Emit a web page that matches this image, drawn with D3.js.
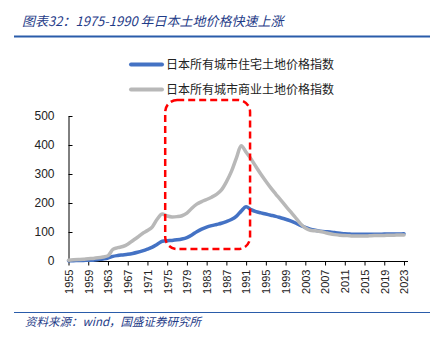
<!DOCTYPE html>
<html><head><meta charset="utf-8">
<script src="https://cdn.jsdelivr.net/npm/d3@7"></script>
<style>body{margin:0;background:#fff}svg{display:block}</style>
</head><body>
<script>
const years = d3.range(1955, 2024);
const residential = [1,1,2,2,3,3,5,7,10,16,19,21,23,26,30,35,41,48,58,68,70,71,73,76,81,90,101,110,117,122,126,130,136,143,154,172,187,177,170,166,162,158,154,149,144,138,131,123,116,110,106,103,101,100,98,96,94,93,92,92,92,92,92,92,93,93,93,93,94];
const commercial = [3,4,5,6,8,9,11,14,18,40,46,50,58,70,82,95,105,118,145,162,155,152,153,156,165,182,196,205,212,220,230,245,273,308,354,397,375,352,325,299,275,252,231,211,190,170,150,129,114,106,104,102,98,94,91,89,88,87,86,86,86,87,88,88,88,89,89,90,90];
const seriesNames = ["日本所有城市住宅土地价格指数","日本所有城市商业土地价格指数"];
const yTicks = [0,100,200,300,400,500];
const xTicks = d3.range(1955, 2024, 4);
const title = "图表32：1975-1990 年日本土地价格快速上涨";
const source = "资料来源：wind，国盛证券研究所";
const highlight = [1974.6, 1991.8, 41, 555];

const W = 444, H = 340;
const svg = d3.select("body").append("svg").attr("width", W).attr("height", H);
const cjk = "'Noto Sans CJK SC','Noto Sans',sans-serif";
const num = "'Liberation Sans',Arial,sans-serif";

// title
svg.append("text").attr("x", 22).attr("y", 26).attr("font-family", cjk).attr("font-style", "italic")
  .attr("font-size", 13).attr("fill", "#1f3c88").text(title);
svg.append("line").attr("x1", 14).attr("x2", 430).attr("y1", 36.5).attr("y2", 36.5)
  .attr("stroke", "#2a5caa").attr("stroke-width", 2);
// footer
svg.append("line").attr("x1", 14).attr("x2", 430).attr("y1", 312.5).attr("y2", 312.5)
  .attr("stroke", "#2a5caa").attr("stroke-width", 1.2);
svg.append("text").attr("x", 25).attr("y", 326).attr("font-family", cjk).attr("font-style", "italic")
  .attr("font-size", 11.5).attr("fill", "#1f3c88").text(source);

const x = d3.scaleLinear().domain([1955, 2023]).range([68.5, 404]);
const y = d3.scaleLinear().domain([0, 500]).range([261, 116]);

// axes
const yAxis = d3.axisLeft(y).tickValues(yTicks).tickSizeInner(-4).tickSizeOuter(0).tickPadding(14);
const gy = svg.append("g").attr("transform", "translate(68.5,0)").call(yAxis);
gy.select(".domain").attr("stroke", "#000");
gy.selectAll(".tick line").attr("stroke", "#000");
gy.selectAll("text").attr("font-family", num).attr("font-size", 12).attr("fill", "#222");

const xAxis = d3.axisBottom(x).tickValues(xTicks).tickFormat(d3.format("d")).tickSizeInner(4).tickSizeOuter(0);
const gx = svg.append("g").attr("transform", "translate(0,261.5)").call(xAxis);
gx.select(".domain").attr("stroke", "#000").attr("d", `M68.5,0H408`);
gx.selectAll(".tick line").attr("stroke", "#000");
gx.selectAll("text").attr("font-family", num).attr("font-size", 11).attr("fill", "#222")
  .attr("transform", "rotate(-90)").attr("text-anchor", "end").attr("dy", "0.35em")
  .attr("x", -8).attr("y", 0);

// lines
const line = vals => d3.line().x((d, i) => x(years[i])).y(d => y(d)).curve(d3.curveMonotoneX)(vals);
svg.append("path").attr("d", line(residential)).attr("fill", "none").attr("stroke", "#4472c4")
  .attr("stroke-width", 3.5).attr("stroke-linejoin", "round").attr("stroke-linecap", "round");
svg.append("path").attr("d", line(commercial)).attr("fill", "none").attr("stroke", "#b8b8b8")
  .attr("stroke-width", 3.5).attr("stroke-linejoin", "round").attr("stroke-linecap", "round");

// highlight box
svg.append("rect").attr("x", x(highlight[0])).attr("y", y(highlight[3]))
  .attr("width", x(highlight[1]) - x(highlight[0])).attr("height", y(highlight[2]) - y(highlight[3]))
  .attr("rx", 12).attr("ry", 12).attr("fill", "none").attr("stroke", "#ff0000")
  .attr("stroke-width", 2.5).attr("stroke-dasharray", "7,4");

// legend
const colors = ["#4472c4", "#b8b8b8"];
seriesNames.forEach((n, i) => {
  const ly = 64.5 + i * 25;
  svg.append("line").attr("x1", 131).attr("x2", 162).attr("y1", ly).attr("y2", ly)
    .attr("stroke", colors[i]).attr("stroke-width", 4).attr("stroke-linecap", "round");
  svg.append("text").attr("x", 166).attr("y", ly).attr("dy", "0.35em").attr("font-family", cjk)
    .attr("font-size", 12).attr("fill", "#222").text(n);
});
</script>
</body></html>
